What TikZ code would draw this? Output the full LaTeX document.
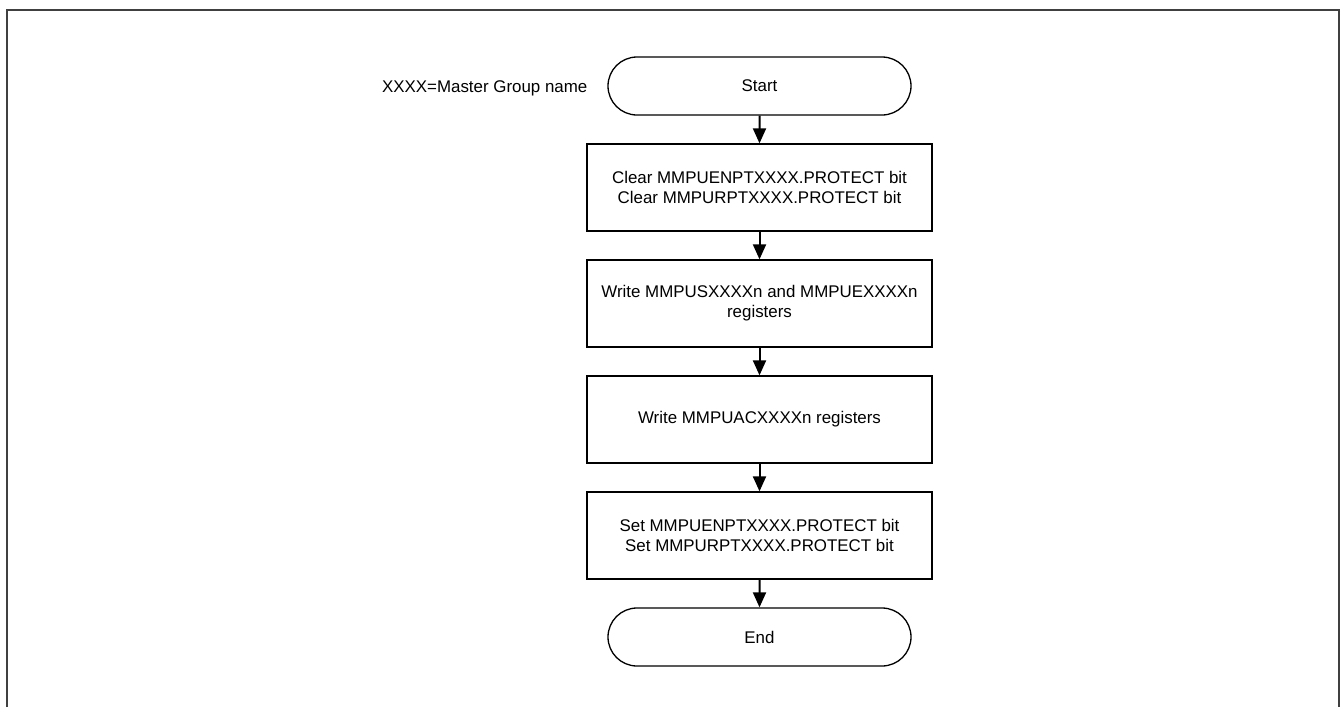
\documentclass[tikz,border=0pt]{standalone}
\usepackage{fontspec}
\setmainfont{Liberation Sans}
\usetikzlibrary{arrows.meta,shapes.misc}

\begin{document}
\begin{tikzpicture}[x=1pt,y=-1pt,line width=1.3pt,
  font=\fontsize{16.9}{20}\selectfont,
  >={Triangle[width=13pt,length=15pt]},
  terminal/.style={draw,rounded rectangle,minimum width=303pt,minimum height=58pt,inner sep=0pt},
  procbox/.style={draw,rectangle,minimum width=345pt,minimum height=87pt,align=center,inner sep=0pt},
  flow/.style={->,line width=2pt}]
  \useasboundingbox (0,0) rectangle (1341,707);

  % outer frame, open at the bottom
  \draw[black!75,line width=2pt] (7,707) |- (1339,10) -- (1339,707);

  % flow steps
  \node[terminal] (start) at (759.5,86) {Start};
  \node[procbox] (clear) at (759.5,187.5) {Clear MMPUENPTXXXX.PROTECT bit\\Clear MMPURPTXXXX.PROTECT bit};
  \node[procbox] (wrse) at (759.5,303.5) {Write MMPUSXXXXn and MMPUEXXXXn\\registers};
  \node[procbox] (wrac) at (759.5,419.5) {Write MMPUACXXXXn registers};
  \node[procbox] (set) at (759.5,535.5) {Set MMPUENPTXXXX.PROTECT bit\\Set MMPURPTXXXX.PROTECT bit};
  \node[terminal] (end) at (759.5,637) {End};

  % note
  \node[anchor=base east,inner sep=0pt] (note) at (588,92) {XXXX=Master Group name};

  % arrows
  \draw[flow] (start) -- (clear);
  \draw[flow] (clear) -- (wrse);
  \draw[flow] (wrse) -- (wrac);
  \draw[flow] (wrac) -- (set);
  \draw[flow] (set) -- (end);
\end{tikzpicture}
\end{document}
